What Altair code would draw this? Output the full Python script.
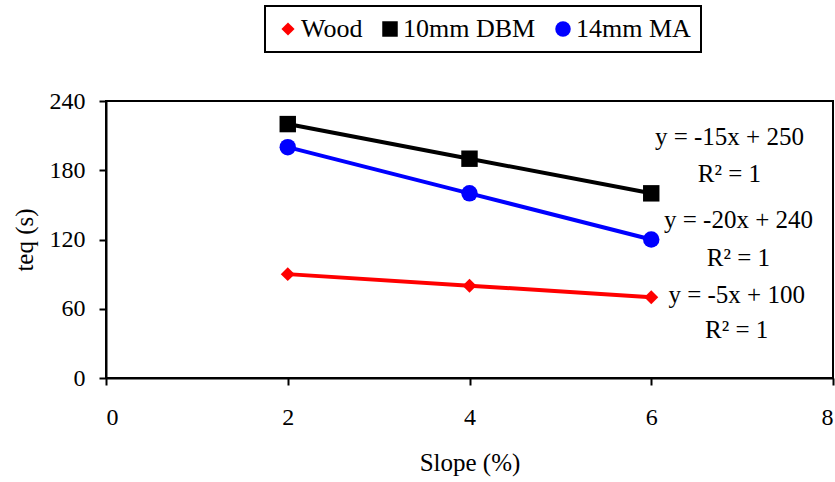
import altair as alt
import pandas as pd

series_names = ["Wood", "10mm DBM", "14mm MA"]
slope = [2, 4, 6]
wood = [90, 80, 70]
dbm = [220, 190, 160]
ma = [200, 160, 120]

colors = ["#FF0000", "#000000", "#0000FF"]
shapes = ["M-0.85,0L0,-0.85L0.85,0L0,0.85Z", "square", "circle"]

eq_text = ["y = -15x + 250", "R² = 1", "y = -20x + 240", "R² = 1", "y = -5x + 100", "R² = 1"]
eq_x = [6.86, 6.86, 6.96, 6.96, 6.94, 6.94]
eq_y = [209, 177, 137, 104, 72, 42]

rows = []
for name, vals in zip(series_names, [wood, dbm, ma]):
    for xv, yv in zip(slope, vals):
        rows.append({"series": name, "slope": xv, "teq": yv})
df = pd.DataFrame(rows)
ann = pd.DataFrame({"text": eq_text, "x": eq_x, "y": eq_y})

FONT = "Liberation Serif"

xenc = alt.X("slope:Q", scale=alt.Scale(domain=[0, 8], nice=False),
             axis=alt.Axis(values=[0, 2, 4, 6, 8], format="d", title="Slope (%)",
                           labelFont=FONT, titleFont=FONT, labelFontSize=24, titleFontSize=25,
                           labelPadding=20, titlePadding=21))
yenc = alt.Y("teq:Q", scale=alt.Scale(domain=[0, 240], nice=False),
             axis=alt.Axis(values=[0, 60, 120, 180, 240], format="d", title="teq (s)",
                           labelFont=FONT, titleFont=FONT, labelFontSize=24, titleFontSize=25,
                           labelPadding=14, titlePadding=12))
cscale = alt.Scale(domain=series_names, range=colors)
sscale = alt.Scale(domain=series_names, range=shapes)
leg = alt.Legend(title=None, orient="none", direction="horizontal",
                 legendX=159, legendY=-95, labelFont=FONT, labelFontSize=26)

line_layers = []
for name, col in zip(series_names, colors):
    line_layers.append(
        alt.Chart(df).transform_filter(alt.datum.series == name)
        .mark_line(strokeWidth=4, color=col).encode(x=xenc, y=yenc)
    )

points = alt.Chart(df).mark_point(filled=True, opacity=1, size=270).encode(
    x=xenc, y=yenc,
    color=alt.Color("series:N", scale=cscale, legend=leg),
    shape=alt.Shape("series:N", scale=sscale, legend=leg),
)
texts = alt.Chart(ann).mark_text(font=FONT, fontSize=25, color="black").encode(
    x=alt.X("x:Q"), y=alt.Y("y:Q"), text="text:N"
)

chart = alt.layer(*line_layers, points, texts).properties(
    width=727, height=277,
    autosize=alt.AutoSizeParams(type="none"),
    padding={"left": 106, "top": 101, "right": 2, "bottom": 104},
).configure(
    font=FONT
).configure_view(
    stroke="black", strokeWidth=2
).configure_axis(
    domainColor="black", domainWidth=2, tickColor="black", tickWidth=2, tickSize=7,
    grid=False, labelColor="black", titleFontWeight="normal", titleColor="black",
).configure_legend(
    labelColor="black",
    strokeColor="black", strokeWidth=2, padding=10, fillColor="white",
    symbolSize=240, symbolOpacity=1, columnPadding=14, labelOffset=0,
    symbolStrokeWidth=0,
)

chart.save("out.html", embed_options={"renderer": "svg", "actions": False})
